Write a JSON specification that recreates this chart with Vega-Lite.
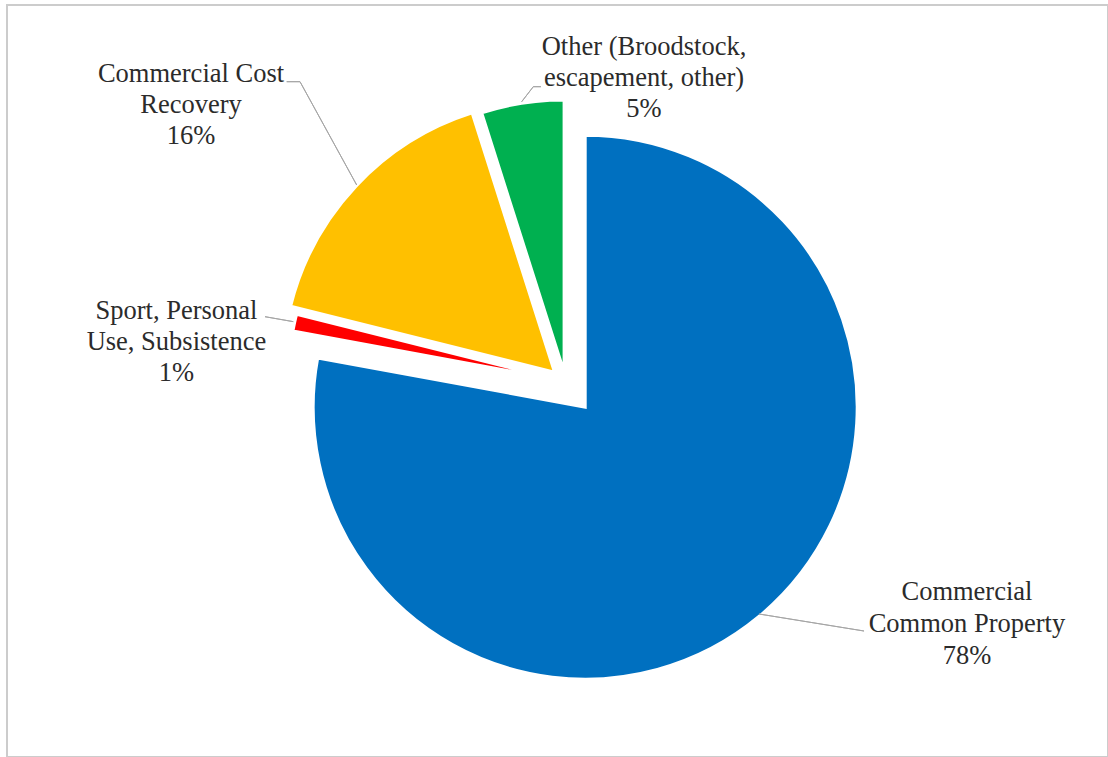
{
  "$schema": "https://vega.github.io/schema/vega-lite/v6.json",
  "width": 1101,
  "height": 752,
  "autosize": {"type": "none"},
  "padding": {"left": 7, "top": 5, "right": 0, "bottom": 0},
  "background": "white",
  "view": {"stroke": "#cccccc", "strokeWidth": 2, "fill": "white"},
  "config": {"view": {"stroke": "#cccccc", "strokeWidth": 2}},
  "data": {
    "values": [
      {"category": "Commercial Common Property", "value": 77.9, "order": 1, "label": "Commercial\nCommon Property\n78%"},
      {"category": "Sport, Personal Use, Subsistence", "value": 1.0, "order": 2, "label": "Sport, Personal\nUse, Subsistence\n1%"},
      {"category": "Commercial Cost Recovery", "value": 16.2, "order": 3, "label": "Commercial Cost\nRecovery\n16%"},
      {"category": "Other (Broodstock, escapement, other)", "value": 4.9, "order": 4, "label": "Other (Broodstock,\nescapement, other)\n5%"}
    ]
  },
  "transform": [
    {"stack": "value", "groupby": [], "sort": [{"field": "order", "order": "ascending"}], "as": ["s0", "s1"]}
  ],
  "layer": [
    {
      "transform": [{"filter": "datum.order == 1"}],
      "mark": {"type": "arc", "outerRadius": 272, "innerRadius": 0, "stroke": "white", "strokeWidth": 3, "xOffset": 27.7, "yOffset": 26.2},
      "encoding": {
        "theta": {"field": "s0", "type": "quantitative", "scale": {"domain": [0, 100]}},
        "theta2": {"field": "s1"},
        "color": {"field": "category", "type": "nominal", "legend": null,
          "scale": {"domain": ["Commercial Common Property", "Sport, Personal Use, Subsistence", "Commercial Cost Recovery", "Other (Broodstock, escapement, other)"],
                    "range": ["#0070C0", "#FF0000", "#FFC000", "#00B050"]}}
      }
    },
    {
      "transform": [{"filter": "datum.order == 2"}],
      "mark": {"type": "arc", "outerRadius": 272, "innerRadius": 0, "stroke": "white", "strokeWidth": 3, "xOffset": 2.9, "yOffset": -0.7},
      "encoding": {
        "theta": {"field": "s0", "type": "quantitative", "scale": {"domain": [0, 100]}},
        "theta2": {"field": "s1"},
        "color": {"field": "category", "type": "nominal", "legend": null}
      }
    },
    {
      "transform": [{"filter": "datum.order == 3"}],
      "mark": {"type": "arc", "outerRadius": 272, "innerRadius": 0, "stroke": "white", "strokeWidth": 3, "xOffset": -3.0, "yOffset": -8.9},
      "encoding": {
        "theta": {"field": "s0", "type": "quantitative", "scale": {"domain": [0, 100]}},
        "theta2": {"field": "s1"},
        "color": {"field": "category", "type": "nominal", "legend": null}
      }
    },
    {
      "transform": [{"filter": "datum.order == 4"}],
      "mark": {"type": "arc", "outerRadius": 272, "innerRadius": 0, "stroke": "white", "strokeWidth": 3, "xOffset": 6.6, "yOffset": -9.0},
      "encoding": {
        "theta": {"field": "s0", "type": "quantitative", "scale": {"domain": [0, 100]}},
        "theta2": {"field": "s1"},
        "color": {"field": "category", "type": "nominal", "legend": null}
      }
    },
    {
      "transform": [{"filter": "datum.order == 1"}],
      "mark": {"type": "arc", "theta": 1.7314, "theta2": 1.7314, "outerRadius": 106.4, "innerRadius": 0, "filled": false, "stroke": "#a6a6a6", "strokeWidth": 1, "xOffset": 201.5, "yOffset": 233},
      "encoding": {}
    },
    {
      "transform": [{"filter": "datum.order == 4"}],
      "mark": {"type": "arc", "theta": 0.658, "theta2": 0.658, "outerRadius": 19, "innerRadius": 0, "filled": false, "stroke": "#a6a6a6", "strokeWidth": 1, "xOffset": -35.8, "yOffset": -279.3},
      "encoding": {}
    },
    {
      "transform": [{"filter": "datum.order == 4"}],
      "mark": {"type": "arc", "theta": 1.5708, "theta2": 1.5708, "outerRadius": 7.7, "innerRadius": 0, "filled": false, "stroke": "#a6a6a6", "strokeWidth": 1, "xOffset": -24.2, "yOffset": -294.3},
      "encoding": {}
    },
    {
      "transform": [{"filter": "datum.order == 3"}],
      "mark": {"type": "arc", "theta": -0.502, "theta2": -0.502, "outerRadius": 117.8, "innerRadius": 0, "filled": false, "stroke": "#a6a6a6", "strokeWidth": 1, "xOffset": -200.8, "yOffset": -196},
      "encoding": {}
    },
    {
      "transform": [{"filter": "datum.order == 3"}],
      "mark": {"type": "arc", "theta": -1.5708, "theta2": -1.5708, "outerRadius": 13.3, "innerRadius": 0, "filled": false, "stroke": "#a6a6a6", "strokeWidth": 1, "xOffset": -257.5, "yOffset": -299.3},
      "encoding": {}
    },
    {
      "transform": [{"filter": "datum.order == 2"}],
      "mark": {"type": "arc", "theta": 1.744, "theta2": 1.744, "outerRadius": 28.7, "innerRadius": 0, "filled": false, "stroke": "#a6a6a6", "strokeWidth": 1, "xOffset": -292.5, "yOffset": -64.3},
      "encoding": {}
    },
    {
      "transform": [{"filter": "datum.order == 1"}],
      "mark": {"type": "text", "theta": 2.0395, "radius": 427.9, "xOffset": 27.7, "yOffset": 26.2, "align": "center", "baseline": "alphabetic", "lineBreak": "\n", "lineHeight": 32, "font": "Liberation Serif, DejaVu Serif, serif", "fontSize": 26.5, "color": "#2b2b2b"},
      "encoding": {"text": {"field": "label"}}
    },
    {
      "transform": [{"filter": "datum.order == 4"}],
      "mark": {"type": "text", "theta": 0.1657, "radius": 356.6, "xOffset": 27.7, "yOffset": 26.2, "align": "center", "baseline": "alphabetic", "lineBreak": "\n", "lineHeight": 31, "font": "Liberation Serif, DejaVu Serif, serif", "fontSize": 26.5, "color": "#2b2b2b"},
      "encoding": {"text": {"field": "label"}}
    },
    {
      "transform": [{"filter": "datum.order == 3"}],
      "mark": {"type": "text", "theta": -0.8811, "radius": 511.0, "xOffset": 27.7, "yOffset": 26.2, "align": "center", "baseline": "alphabetic", "lineBreak": "\n", "lineHeight": 31, "font": "Liberation Serif, DejaVu Serif, serif", "fontSize": 26.5, "color": "#2b2b2b"},
      "encoding": {"text": {"field": "label"}}
    },
    {
      "transform": [{"filter": "datum.order == 2"}],
      "mark": {"type": "text", "theta": -1.3579, "radius": 418.2, "xOffset": 27.7, "yOffset": 26.2, "align": "center", "baseline": "alphabetic", "lineBreak": "\n", "lineHeight": 31, "font": "Liberation Serif, DejaVu Serif, serif", "fontSize": 26.5, "color": "#2b2b2b"},
      "encoding": {"text": {"field": "label"}}
    }
  ]
}
